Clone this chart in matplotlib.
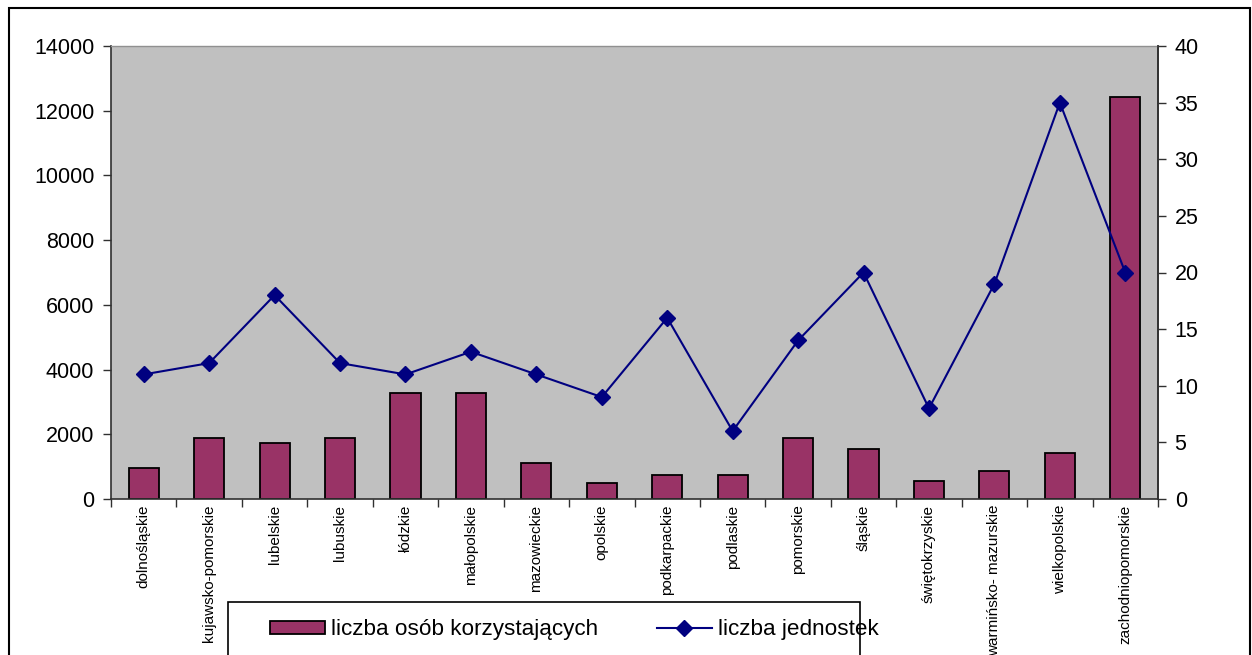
import matplotlib
matplotlib.use("Agg")
import matplotlib.pyplot as plt
from matplotlib.patches import Rectangle
from matplotlib.lines import Line2D
import numpy as np

plt.rcParams['font.family'] = ['Liberation Sans', 'DejaVu Sans']

regions = ["dolnośląskie", "kujawsko-pomorskie", "lubelskie", "lubuskie", "łódzkie",
           "małopolskie", "mazowieckie", "opolskie", "podkarpackie", "podlaskie",
           "pomorskie", "śląskie", "świętokrzyskie", "warmińsko- mazurskie",
           "wielkopolskie", "zachodniopomorskie"]
osoby = [950, 1870, 1730, 1870, 3280, 3280, 1110, 490, 740, 740,
         1870, 1540, 560, 870, 1420, 12430]
jednostki = [11, 12, 18, 12, 11, 13, 11, 9, 16, 6, 14, 20, 8, 19, 35, 20]
left_ticks = [0, 2000, 4000, 6000, 8000, 10000, 12000, 14000]
right_ticks = [0, 5, 10, 15, 20, 25, 30, 35, 40]

bar_color = "#993366"
line_color = "#000080"

W, H = 1252, 655
fig = plt.figure(figsize=(W / 100, H / 100), dpi=100)
ax = fig.add_axes([111 / W, 1 - 499 / H, (1158 - 111) / W, (499 - 46) / H])
ax.set_facecolor("#C0C0C0")

x = np.arange(len(regions))
ax.bar(x, osoby, width=0.46, color=bar_color, edgecolor="black", linewidth=1.3, zorder=2)
ax.set_xlim(-0.5, len(regions) - 0.5)
ax.set_ylim(0, 14000)
ax.set_yticks(left_ticks)
ax.set_yticklabels([str(t) for t in left_ticks], fontsize=15.5)
ax.tick_params(axis="y", direction="out", length=6, width=1, color="#303030", pad=6)

ax.set_xticks(x)
ax.set_xticklabels(regions, rotation=90, fontsize=11, va="top", ha="center")
ax.tick_params(axis="x", which="major", length=0, pad=4)
ax.set_xticks(np.arange(-0.5, len(regions)), minor=True)
ax.tick_params(axis="x", which="minor", direction="out", length=6, width=1, color="#303030")

for s in ["left", "bottom", "right"]:
    ax.spines[s].set_color("#303030")
    ax.spines[s].set_linewidth(1.2)
ax.spines["top"].set_color("#909090")
ax.spines["top"].set_linewidth(1)

ax2 = ax.twinx()
ax2.plot(x, jednostki, color=line_color, linewidth=1.5, marker="D", markersize=8,
         markerfacecolor=line_color, markeredgecolor=line_color, zorder=3)
ax2.set_ylim(0, 40)
ax2.set_yticks(right_ticks)
ax2.set_yticklabels([str(t) for t in right_ticks], fontsize=15.5)
ax2.tick_params(axis="y", direction="out", length=6, width=1, color="#303030", pad=6)
ax2.spines["right"].set_color("#303030")
ax2.spines["right"].set_linewidth(1.2)
ax2.spines["top"].set_visible(False)
ax2.spines["left"].set_visible(False)
ax2.spines["bottom"].set_visible(False)

# outer chart border (runs off the bottom edge)
fig.patches.append(Rectangle((9 / W, -0.1), (1250 - 9) / W, 1.1 - 8 / H,
                             transform=fig.transFigure, fill=False,
                             edgecolor="black", linewidth=1.5, clip_on=False))
# legend frame
fig.patches.append(Rectangle((228 / W, -0.1), (860 - 228) / W, 0.1 + 1 - 602 / H,
                             transform=fig.transFigure, facecolor="white",
                             edgecolor="black", linewidth=1.2, clip_on=False))

handles = [Rectangle((0, 0), 1, 1, facecolor=bar_color, edgecolor="black", linewidth=1.3),
           Line2D([], [], color=line_color, linewidth=1.5, marker="D", markersize=8,
                  markerfacecolor=line_color, markeredgecolor=line_color)]
fig.legend(handles, ["liczba osób korzystających", "liczba jednostek"],
           loc="center left", bbox_to_anchor=(259 / W, 1 - 630 / H), ncol=2,
           frameon=False, borderpad=0, fontsize=16.2, handlelength=2.44,
           handleheight=0.5, handletextpad=0.27, columnspacing=2.6)

fig.savefig("out.png", dpi=100)
